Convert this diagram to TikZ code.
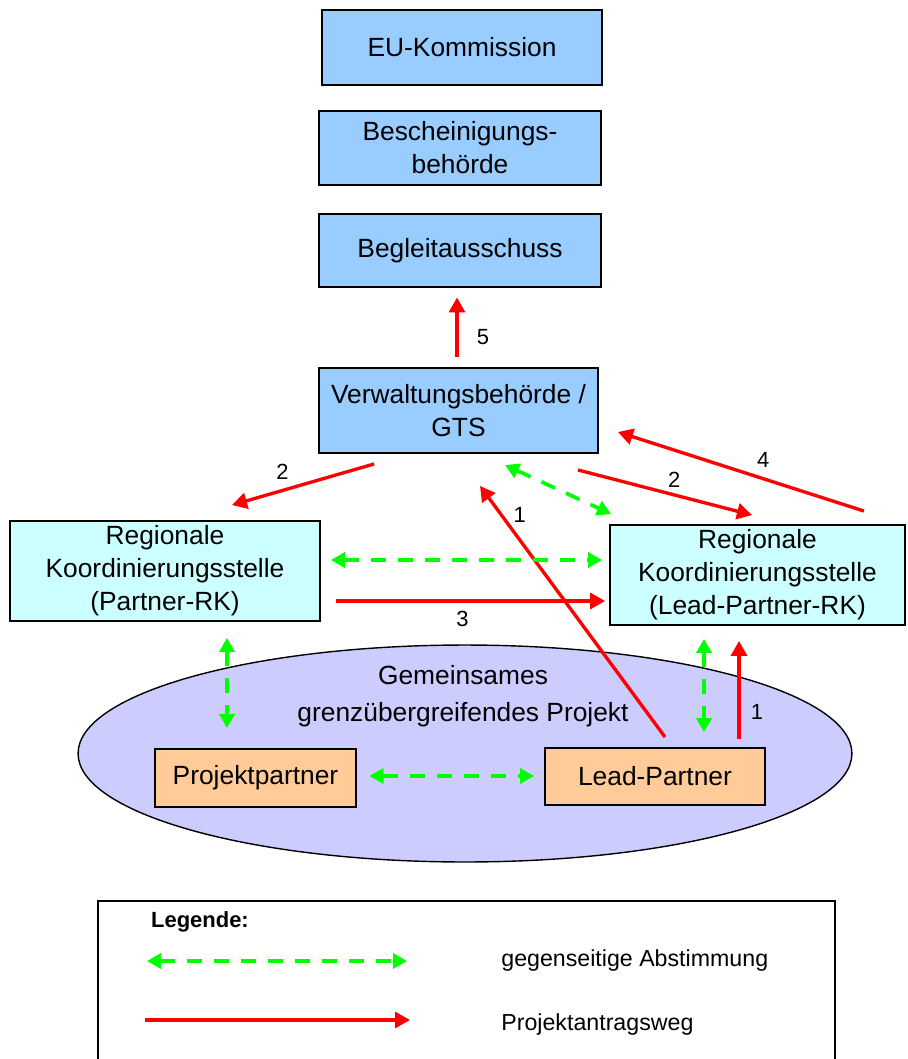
\documentclass[tikz,border=0pt]{standalone}
\usepackage{fontspec}
\setmainfont{Liberation Sans}
\usetikzlibrary{arrows.meta,calc,shapes.geometric}

\definecolor{vbblue}{HTML}{99CCFF}
\definecolor{rkcyan}{HTML}{CCFFFF}
\definecolor{projlilac}{HTML}{CCCCFF}
\definecolor{pporange}{HTML}{FFCC99}

\begin{document}
\begin{tikzpicture}[x=0.02cm,y=-0.02cm,
    box/.style={draw,line width=1.1pt,align=center,inner sep=0pt,font=\fontsize{15}{18.8}\selectfont},
    vbbox/.style={box,fill=vbblue},
    rkbox/.style={box,fill=rkcyan},
    ppbox/.style={box,fill=pporange},
    redarrow/.style={draw=red,line width=1.9pt,-{Triangle[length=0.3cm,width=0.32cm]}},
    greenarrow/.style={draw=green,line width=2.1pt,dash pattern=on 0.3cm off 0.24cm,
        {Triangle[length=0.28cm,width=0.3cm]}-{Triangle[length=0.28cm,width=0.3cm]}},
    num/.style={inner sep=0pt,font=\fontsize{12.5}{14}\selectfont}]

    \useasboundingbox (0,0) rectangle (907,1059);

    % Draw the project ellipse
    \node[ellipse,draw,fill=projlilac,line width=0.8pt,minimum width=15.48cm,minimum height=4.34cm,inner sep=0pt] (proj) at (465,753.5) {};
    \node[align=center,inner sep=0pt,font=\fontsize{15}{21}\selectfont] (projtxt) at (463,696) {Gemeinsames\\grenzübergreifendes Projekt};

    % Draw the boxes
    \node[vbbox,minimum width=5.6cm,minimum height=1.5cm] (eu) at (462,47.5) {EU-Kommission};
    \node[vbbox,minimum width=5.64cm,minimum height=1.48cm] (bsb) at (460,148) {Bescheinigungs-\\behörde};
    \node[vbbox,minimum width=5.64cm,minimum height=1.46cm] (ba) at (460,250.5) {Begleitausschuss};
    \node[vbbox,minimum width=5.58cm,minimum height=1.7cm] (vb) at (458.5,410.5) {Verwaltungsbehörde /\\GTS};
    \node[rkbox,minimum width=6.2cm,minimum height=2cm] (prk) at (165,571) {Regionale\\Koordinierungsstelle\\(Partner-RK)};
    \node[rkbox,minimum width=5.9cm,minimum height=2cm] (lrk) at (757.5,575) {Regionale\\Koordinierungsstelle\\(Lead-Partner-RK)};
    \node[ppbox,minimum width=4.02cm,minimum height=1.16cm] (pp) at (255.5,778) {Projektpartner};
    \node[ppbox,minimum width=4.4cm,minimum height=1.14cm] (lp) at (655,776.5) {Lead-Partner};

    % Draw the application path (red)
    \draw[redarrow] ($(vb.north)+(-1.5,-10)$) -- ($(ba.south)+(-3,9.5)$) node[num,pos=0.33,xshift=0.52cm] {5};
    \draw[redarrow] ($(vb.south west)+(56,10)$) -- ($(prk.north)+(67,-15)$) node[num,pos=0.61,xshift=-0.1cm,yshift=0.34cm] {2};
    \draw[redarrow] ($(vb.south east)+(-21,16)$) -- ($(lrk.north)+(-5.5,-9)$) node[num,pos=0.53,xshift=0.08cm,yshift=0.28cm] {2};
    \draw[redarrow] ($(lrk.north east)+(-42,-13)$) -- ($(vb.east)+(19,21.5)$) node[num,pos=0.43,xshift=0.1cm,yshift=0.34cm] {4};
    \draw[redarrow] ($(lp.north)+(10,-10)$) -- ($(vb.south)+(21.5,32)$) node[num,pos=0.85,xshift=0.24cm,yshift=0.18cm] {1};
    \draw[redarrow] ($(prk.east)+(15,30)$) -- ($(lrk.west)+(-4,26)$) node[num,pos=0.47,yshift=-0.36cm] {3};
    \draw[redarrow] ($(lp.north)+(84,-8)$) -- ($(lrk.south)+(-18.5,15)$) node[num,pos=0.28,xshift=0.36cm] {1};

    % Draw the mutual coordination (green)
    \draw[greenarrow] ($(vb.south)+(46.5,11)$) -- ($(lrk.north west)+(2,-10)$);
    \draw[greenarrow] ($(prk.east)+(10,-11)$) -- ($(lrk.west)+(-7,-15)$);
    \draw[greenarrow] ($(prk.south)+(62,16)$) -- ($(pp.north)+(-28.5,-20)$);
    \draw[greenarrow] ($(pp.east)+(12.5,-2)$) -- ($(lp.west)+(-10,-0.5)$);
    \draw[greenarrow] ($(lrk.south)+(-53.5,13)$) -- ($(lp.north)+(49,-15)$);

    % Draw the legend
    \draw[line width=1.1pt] (98,1080) -- (98,901) -- (835,901) -- (835,1080);
    \node[inner sep=0pt,font=\fontsize{12.5}{15}\selectfont\bfseries] (leg) at (200,922) {Legende:};
    \coordinate (lga) at (147,961);
    \coordinate (lgb) at (407,961);
    \coordinate (lgc) at (145,1020);
    \coordinate (lgd) at (410,1020);
    \draw[greenarrow] (lga) -- (lgb);
    \draw[redarrow] (lgc) -- (lgd);
    \node[anchor=west,inner sep=0pt,font=\fontsize{13.2}{15}\selectfont] (leggreen) at (501,960) {gegenseitige Abstimmung};
    \node[anchor=west,inner sep=0pt,font=\fontsize{13.2}{15}\selectfont] (legred) at (501,1024) {Projektantragsweg};

\end{tikzpicture}
\end{document}
